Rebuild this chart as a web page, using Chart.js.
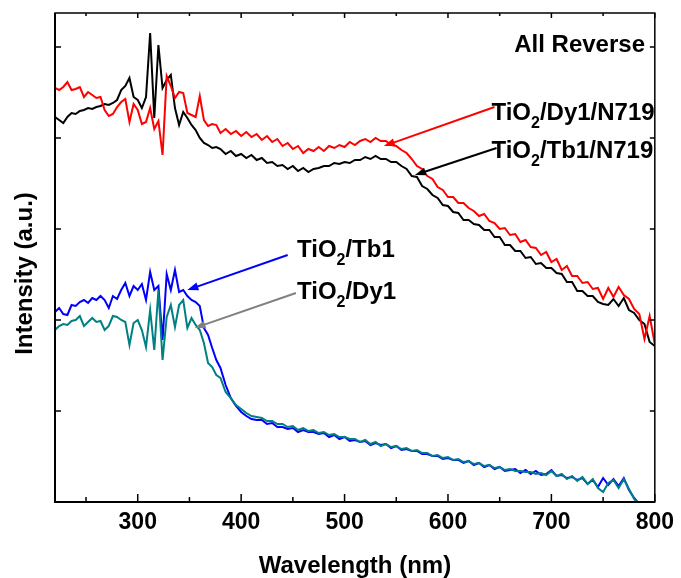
<!DOCTYPE html>
<html>
<head>
<meta charset="utf-8">
<script src="https://cdn.jsdelivr.net/npm/chart.js@4.4.1/dist/chart.umd.min.js"></script>
<style>
  html, body { margin: 0; padding: 0; background: #fff; }
  #wrap { width: 681px; height: 578px; }
</style>
</head>
<body>
<div id="wrap"><canvas id="chart" width="681" height="578"></canvas></div>
<script>
// wavelength grid (nm), finer in the noisy UV part
const wavelengths = [
  220, 224, 228, 232, 236, 240, 244, 248, 252, 256, 260, 264, 268, 272, 276, 280, 284, 288, 292, 296,
  300, 304, 308, 312, 316, 320, 324, 328, 332, 336, 340, 344, 348, 352, 356, 360, 364, 368, 372, 376,
  380, 385, 390, 395, 400, 405, 410, 415, 420, 425, 430, 435, 440, 445, 450, 455, 460, 465, 470, 475,
  480, 485, 490, 495, 500, 505, 510, 515, 520, 525, 530, 535, 540, 545, 550, 555, 560, 565, 570, 575,
  580, 585, 590, 595, 600, 605, 610, 615, 620, 625, 630, 635, 640, 645, 650, 655, 660, 665, 670, 675,
  680, 685, 690, 695, 700, 705, 710, 715, 720, 725, 730, 735, 740, 745, 750, 755, 760, 765, 770, 775,
  780, 785, 790, 795, 800
];

// intensities (a.u.)
const dyN719 = [
  414, 412, 415, 420, 412, 413, 415, 405, 410, 407, 404, 405, 392, 386, 388, 395, 400, 403, 380, 398,
  392, 378, 380, 394, 373, 381, 347, 426, 416, 404, 410, 409, 389, 387, 385, 406, 382, 376, 378, 377,
  369, 373, 368, 371, 366, 370, 365, 368, 362, 366,
  360, 363, 356, 359, 353, 356, 349, 353, 351, 355,
  351, 356, 354, 357, 355, 360, 357, 361, 363, 360,
  364, 361, 361, 357, 356, 352, 349, 343, 336, 333,
  326, 323, 315, 312, 305, 305, 299, 299, 294, 291,
  286, 288, 281, 279, 273, 274, 267, 268, 260, 262,
  255, 254, 247, 250, 240, 243, 232, 236, 226, 226,
  219, 220, 213, 214, 203, 214, 205, 215, 207, 203,
  193, 188, 163, 186, 158
];
const tbN719 = [
  385, 382, 379, 385, 389, 388, 391, 392, 394, 393, 395, 396, 398, 397, 399, 402, 412, 416, 424, 405,
  402, 394, 405, 469, 384, 457, 414, 422, 427, 394, 377, 390, 384, 377, 372, 364, 359, 357, 354, 355,
  353, 348, 351, 346, 348, 344, 347, 342, 344, 339,
  340, 336, 337, 333, 336, 331, 334, 330, 333, 334,
  336, 336, 339, 338, 340, 339, 342, 342, 345, 343,
  346, 343, 343, 340, 340, 336, 333, 326, 325, 316,
  313, 307, 304, 297, 296, 290, 289, 282, 282, 278,
  277, 272, 272, 265, 265, 257, 257, 251, 251, 244,
  245, 238, 239, 234, 234, 229, 228, 220, 220, 211,
  211, 206, 206, 200, 198, 197, 203, 196, 204, 192,
  189, 182, 178, 160, 156
];
const tb1 = [
  190, 194, 188, 187, 197, 196, 200, 202, 199, 204, 202, 206, 202, 194, 206, 203, 212, 219, 206, 216,
  212, 218, 202, 230, 212, 216, 162, 228, 212, 232, 210, 212, 206, 202, 200, 196, 174, 167, 154, 142,
  134, 117, 104, 96, 90, 86, 83, 82, 82, 78,
  79, 75, 75, 73, 74, 70, 72, 70, 70, 68,
  69, 65, 67, 63, 65, 61, 62, 60, 61, 57,
  59, 57, 58, 54, 56, 52, 53, 51, 51, 48,
  48, 46, 46, 43, 44, 42, 42, 39, 41, 37,
  39, 35, 37, 33, 35, 31, 32, 33, 29, 32,
  28, 31, 27, 28, 32, 26, 27, 24, 25, 22,
  24, 18, 22, 15, 24, 17, 23, 16, 24, 12,
  4, -2, -5, null, null
];
const dy1 = [
  172, 176, 178, 177, 181, 182, 186, 176, 180, 184, 180, 181, 172, 176, 186, 185, 182, 180, 157, 179,
  182, 172, 155, 192, 152, 212, 142, 185, 197, 175, 197, 202, 174, 184, 177, 172, 159, 139, 135, 127,
  124, 110, 104, 97, 93, 89, 86, 85, 84, 81,
  81, 78, 78, 75, 76, 72, 74, 71, 72, 69,
  70, 67, 68, 65, 65, 63, 63, 60, 62, 58,
  60, 56, 58, 55, 56, 53, 54, 51, 52, 49,
  49, 46, 47, 44, 45, 42, 43, 40, 41, 38,
  39, 36, 37, 34, 35, 32, 33, 31, 31, 30,
  30, 28, 29, 27, 31, 26, 28, 23, 26, 21,
  25, 18, 23, 14, 10, 19, 22, 14, 23, 13,
  3, -3, -6, null, null
];

const xTicks = [300, 400, 500, 600, 700, 800];
const xMinorTicks = [250, 350, 450, 550, 650, 750];
const yTicks = [0, 91, 182, 273, 364, 455];

const seriesNames = ['TiO2/Dy1/N719', 'TiO2/Tb1/N719', 'TiO2/Tb1', 'TiO2/Dy1'];
const seriesColors = ['#ff0000', '#000000', '#0000ff', '#008080'];
const arrowColors = ['#ff0000', '#000000', '#0000ff', '#808080'];
// label anchors and arrows, in data units
const labelAt = [[642, 382], [642, 344], [454, 245], [454, 203]];
const arrowFrom = [[645, 395], [647, 354], [445, 247], [453, 209]];
const arrowTo = [[538, 356], [568, 327], [348, 212], [355, 174]];

const FONT = "'Liberation Sans', Arial, sans-serif";

function toPoints(values) {
  return wavelengths.map((w, i) => ({ x: w, y: values[i] }));
}

// draws frame, inward ticks, y title and the arrow labels
const decorations = {
  id: 'decorations',
  afterDatasetsDraw(chart) {
    const { ctx, chartArea: a, scales: { x, y } } = chart;
    ctx.save();
    ctx.strokeStyle = '#000';
    ctx.lineWidth = 1.5;
    ctx.beginPath();
    xTicks.forEach(v => {
      const px = x.getPixelForValue(v);
      ctx.moveTo(px, a.bottom); ctx.lineTo(px, a.bottom - 8);
      ctx.moveTo(px, a.top); ctx.lineTo(px, a.top + 5);
    });
    xMinorTicks.forEach(v => {
      const px = x.getPixelForValue(v);
      ctx.moveTo(px, a.bottom); ctx.lineTo(px, a.bottom - 5);
      ctx.moveTo(px, a.top); ctx.lineTo(px, a.top + 3);
    });
    yTicks.forEach(v => {
      const py = y.getPixelForValue(v);
      ctx.moveTo(a.left, py); ctx.lineTo(a.left + 6, py);
      ctx.moveTo(a.right, py); ctx.lineTo(a.right - 5, py);
    });
    ctx.stroke();

    ctx.lineWidth = 1.5;
    ctx.strokeRect(a.left, a.top, a.width, a.height);
    ctx.lineWidth = 2;
    ctx.beginPath();
    ctx.moveTo(a.left, a.top); ctx.lineTo(a.left, a.bottom); ctx.lineTo(a.right, a.bottom);
    ctx.stroke();

    // arrows
    arrowFrom.forEach((f, i) => {
      const x0 = x.getPixelForValue(f[0]), y0 = y.getPixelForValue(f[1]);
      const x1 = x.getPixelForValue(arrowTo[i][0]), y1 = y.getPixelForValue(arrowTo[i][1]);
      const ang = Math.atan2(y1 - y0, x1 - x0);
      const head = 11, half = 4;
      ctx.strokeStyle = arrowColors[i];
      ctx.fillStyle = arrowColors[i];
      ctx.lineWidth = 2;
      ctx.beginPath();
      ctx.moveTo(x0, y0);
      ctx.lineTo(x1 - Math.cos(ang) * head * 0.8, y1 - Math.sin(ang) * head * 0.8);
      ctx.stroke();
      ctx.beginPath();
      ctx.moveTo(x1, y1);
      ctx.lineTo(x1 - Math.cos(ang) * head - Math.sin(ang) * half, y1 - Math.sin(ang) * head + Math.cos(ang) * half);
      ctx.lineTo(x1 - Math.cos(ang) * head + Math.sin(ang) * half, y1 - Math.sin(ang) * head - Math.cos(ang) * half);
      ctx.closePath();
      ctx.fill();
    });

    // series labels with subscript 2
    ctx.fillStyle = '#000';
    ctx.textBaseline = 'alphabetic';
    ctx.textAlign = 'left';
    seriesNames.forEach((name, i) => {
      let px = x.getPixelForValue(labelAt[i][0]);
      const py = y.getPixelForValue(labelAt[i][1]);
      const head = name.slice(0, 3), sub = name.slice(3, 4), rest = name.slice(4);
      ctx.font = `bold 24px ${FONT}`;
      ctx.fillText(head, px, py);
      px += ctx.measureText(head).width;
      ctx.font = `bold 16px ${FONT}`;
      ctx.fillText(sub, px, py + 8);
      px += ctx.measureText(sub).width;
      ctx.font = `bold 24px ${FONT}`;
      ctx.fillText(rest, px, py);
    });

    ctx.font = `bold 24px ${FONT}`;
    ctx.textAlign = 'right';
    ctx.fillText('All Reverse', x.getPixelForValue(790.5), y.getPixelForValue(450));

    // y axis title
    ctx.translate(25, (a.top + a.bottom) / 2 + 16);
    ctx.rotate(-Math.PI / 2);
    ctx.textAlign = 'center';
    ctx.textBaseline = 'middle';
    ctx.font = `bold 24px ${FONT}`;
    ctx.fillText('Intensity (a.u.)', 0, 0);
    ctx.restore();
  }
};

const datasets = [
  { data: toPoints(dyN719), borderColor: seriesColors[0] },
  { data: toPoints(tbN719), borderColor: seriesColors[1] },
  { data: toPoints(dy1), borderColor: seriesColors[3] },
  { data: toPoints(tb1), borderColor: seriesColors[2] }
].map(d => Object.assign(d, { borderWidth: 2, pointRadius: 0, tension: 0, fill: false, spanGaps: false }));

new Chart(document.getElementById('chart'), {
  type: 'line',
  data: { datasets },
  options: {
    responsive: false,
    animation: false,
    layout: { padding: { top: 13, right: 25, left: 0, bottom: 0 } },
    plugins: { legend: { display: false }, tooltip: { enabled: false } },
    scales: {
      x: {
        type: 'linear',
        min: 220,
        max: 800,
        grid: { display: false, drawTicks: false },
        border: { display: false },
        afterBuildTicks: scale => { scale.ticks = xTicks.map(v => ({ value: v })); },
        afterFit: scale => { scale.height = 76; },
        ticks: {
          autoSkip: false,
          maxRotation: 0,
          padding: 7,
          color: '#000',
          font: { family: FONT, size: 23, weight: 'bold' }
        },
        title: {
          display: true,
          text: 'Wavelength (nm)',
          color: '#000',
          padding: 0,
          font: { family: FONT, size: 24, weight: 'bold', lineHeight: 1 }
        }
      },
      y: {
        min: 0,
        max: 489,
        grid: { display: false, drawTicks: false },
        border: { display: false },
        ticks: { display: false },
        afterFit: scale => { scale.width = 55; }
      }
    }
  },
  plugins: [decorations]
});
</script>
</body>
</html>
